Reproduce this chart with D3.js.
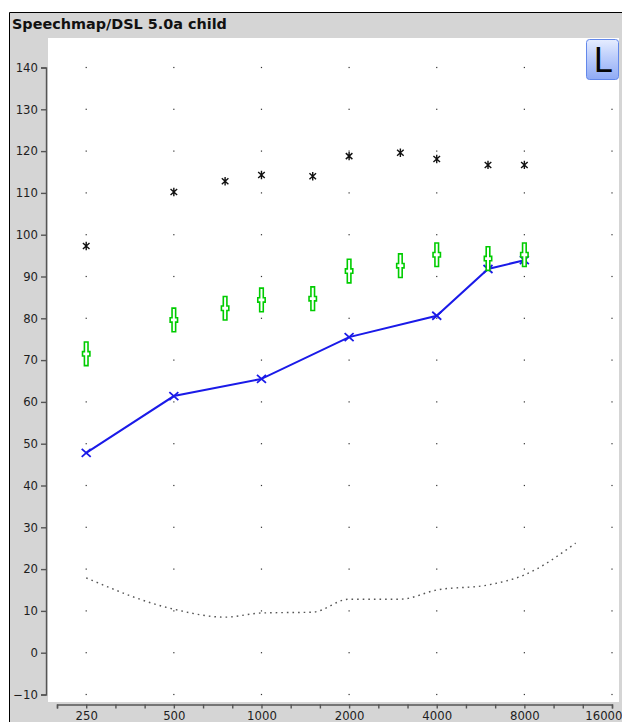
<!DOCTYPE html>
<html>
<head>
<meta charset="utf-8">
<script src="https://cdn.jsdelivr.net/npm/d3@7"></script>
<style>
  html, body { margin: 0; padding: 0; background: #ffffff; }
  svg { display: block; }
  text { font-family: "DejaVu Sans", sans-serif; }
</style>
</head>
<body>
<svg id="chart" width="622" height="722"></svg>
<script>
// Speechmap: frequencies (Hz) and levels (dB SPL)
const markerFreqs = [250, 500, 750, 1000, 1500, 2000, 3000, 4000, 6000, 8000];
const uclLevels    = [97.3, 110.2, 112.8, 114.3, 114.0, 118.8, 119.6, 118.1, 116.7, 116.7];
const targetLevels = [71.5, 79.6, 82.4, 84.4, 84.7, 91.3, 92.6, 95.2, 94.3, 95.2];

const measuredFreqs  = [250, 500, 1000, 2000, 4000, 6000, 8000];
const measuredLevels = [47.8, 61.4, 65.5, 75.5, 80.6, 91.8, 93.9];

const thresholdFreqs  = [250, 500, 750, 1000, 1500, 2000, 3000, 4000, 6000, 8000, 12000];
const thresholdLevels = [17.9, 10.4, 8.5, 9.5, 9.7, 12.8, 12.8, 15.0, 16.2, 18.6, 26.2];

const xTickLabels = [250, 500, 1000, 2000, 4000, 8000, 16000];
const yTickValues = [-10, 0, 10, 20, 30, 40, 50, 60, 70, 80, 90, 100, 110, 120, 130, 140];
const titleText = "Speechmap/DSL 5.0a child";
const earLabel = "L";

const svg = d3.select("#chart");
const W = 622, H = 722;

// window frame and panel
svg.append("rect").attr("x", 10).attr("y", 13).attr("width", W - 10).attr("height", H - 13)
  .attr("fill", "#d5d5d5");
svg.append("path").attr("d", `M9.5,${H} V12.5 H${W}`)
  .attr("fill", "none").attr("stroke", "#000").attr("stroke-width", 1);
svg.append("text").attr("x", 12).attr("y", 28.5)
  .attr("font-size", 14.4).attr("font-weight", "bold").attr("fill", "#111")
  .text(titleText);

// plotting area
const plot = { left: 48, top: 38, right: 619, bottom: 702 };
svg.append("rect").attr("x", plot.left).attr("y", plot.top)
  .attr("width", plot.right - plot.left).attr("height", plot.bottom - plot.top)
  .attr("fill", "#ffffff");

// scales: third-octave log axis, dB linear axis
const fMin = 250 * Math.pow(2, -1 / 3);
const x = d3.scaleLog().base(2).domain([fMin, 16000]).range([57, 612]);
const y = d3.scaleLinear().domain([-10, 140]).range([694.5, 67.5]);

// dotted grid at octaves and every 10 dB
const gridPts = [];
xTickLabels.forEach(f => yTickValues.forEach(v => gridPts.push([f, v])));
svg.append("g").selectAll("rect").data(gridPts).join("rect")
  .attr("x", d => x(d[0]) - 0.6).attr("y", d => y(d[1]) - 0.6)
  .attr("width", 1.2).attr("height", 1.2).attr("fill", "#333");

// y axis
const yAxis = d3.axisLeft(y).tickValues(yTickValues).tickSize(5).tickPadding(3)
  .tickFormat(d3.format("d"));
const gy = svg.append("g").attr("transform", "translate(46,0)").call(yAxis);
gy.selectAll("path, line").attr("stroke", "#555").attr("stroke-width", 1.4);
gy.selectAll("text").attr("font-size", 11.7).attr("fill", "#1e1e1e")
  .attr("font-family", "DejaVu Sans, sans-serif");

// x axis with third-octave ticks
const thirdOctaves = d3.range(-1, 19).map(k => 250 * Math.pow(2, k / 3));
const xAxis = d3.axisBottom(x).tickValues(thirdOctaves).tickSize(4).tickPadding(3)
  .tickFormat(d => {
    const m = xTickLabels.find(v => Math.abs(v - d) < 1);
    return m ? String(m) : "";
  });
const gx = svg.append("g").attr("transform", "translate(0,704.5)").call(xAxis);
gx.selectAll("path, line").attr("stroke", "#555").attr("stroke-width", 1.4);
gx.selectAll("text").attr("font-size", 11.7).attr("fill", "#1e1e1e")
  .attr("font-family", "DejaVu Sans, sans-serif");
gx.selectAll(".tick").filter(d => Math.abs(d - 16000) < 1).select("text")
  .attr("text-anchor", "end").attr("dx", 10);

// threshold curve (dotted)
const thrLine = d3.line().curve(d3.curveMonotoneX)
  .x((d, i) => x(thresholdFreqs[i])).y(d => y(d));
svg.append("path").datum(thresholdLevels).attr("d", thrLine)
  .attr("fill", "none").attr("stroke", "#555").attr("stroke-width", 1.4)
  .attr("stroke-dasharray", "1.6,4");

// measured response line
const measLine = d3.line().x((d, i) => x(measuredFreqs[i])).y(d => y(d));
svg.append("path").datum(measuredLevels).attr("d", measLine)
  .attr("fill", "none").attr("stroke", "#1a1ae8").attr("stroke-width", 2);
svg.append("g").selectAll("path").data(measuredLevels).join("path")
  .attr("transform", (d, i) => `translate(${x(measuredFreqs[i])},${y(d)})`)
  .attr("d", "M-4.5,-4 L4.5,4 M-4.5,4 L4.5,-4")
  .attr("fill", "none").attr("stroke", "#1a1ae8").attr("stroke-width", 1.8);

// target markers
const crossPath = "M-1.8,-11.8 H1.8 V-2.2 H3.7 V2.2 H1.8 V11.8 H-1.8 V2.2 H-3.7 V-2.2 H-1.8 Z";
svg.append("g").selectAll("path").data(targetLevels).join("path")
  .attr("transform", (d, i) => `translate(${x(markerFreqs[i])},${y(d)})`)
  .attr("d", crossPath)
  .attr("fill", "#ffffff").attr("stroke", "#00cc00").attr("stroke-width", 1.6);

// UCL asterisks
svg.append("g").selectAll("path").data(uclLevels).join("path")
  .attr("transform", (d, i) => `translate(${x(markerFreqs[i])},${y(d)})`)
  .attr("d", "M0,-4.2 V4.2 M-3.3,-3 L3.3,3 M-3.3,3 L3.3,-3")
  .attr("fill", "none").attr("stroke", "#111").attr("stroke-width", 1.4);

// ear button
const defs = svg.append("defs");
const grad = defs.append("linearGradient").attr("id", "btnGrad")
  .attr("x1", 0).attr("y1", 0).attr("x2", 0).attr("y2", 1);
grad.append("stop").attr("offset", 0).attr("stop-color", "#e6edff");
grad.append("stop").attr("offset", 0.45).attr("stop-color", "#bccdfb");
grad.append("stop").attr("offset", 1).attr("stop-color", "#8faaf5");
svg.append("rect").attr("x", 586.5).attr("y", 39.5).attr("width", 32).attr("height", 40)
  .attr("rx", 3).attr("fill", "url(#btnGrad)").attr("stroke", "#6388ea").attr("stroke-width", 1);
svg.append("text").attr("x", 593.5).attr("y", 71.5)
  .attr("font-size", 33).attr("fill", "#050505").text(earLabel);
</script>
</body>
</html>
